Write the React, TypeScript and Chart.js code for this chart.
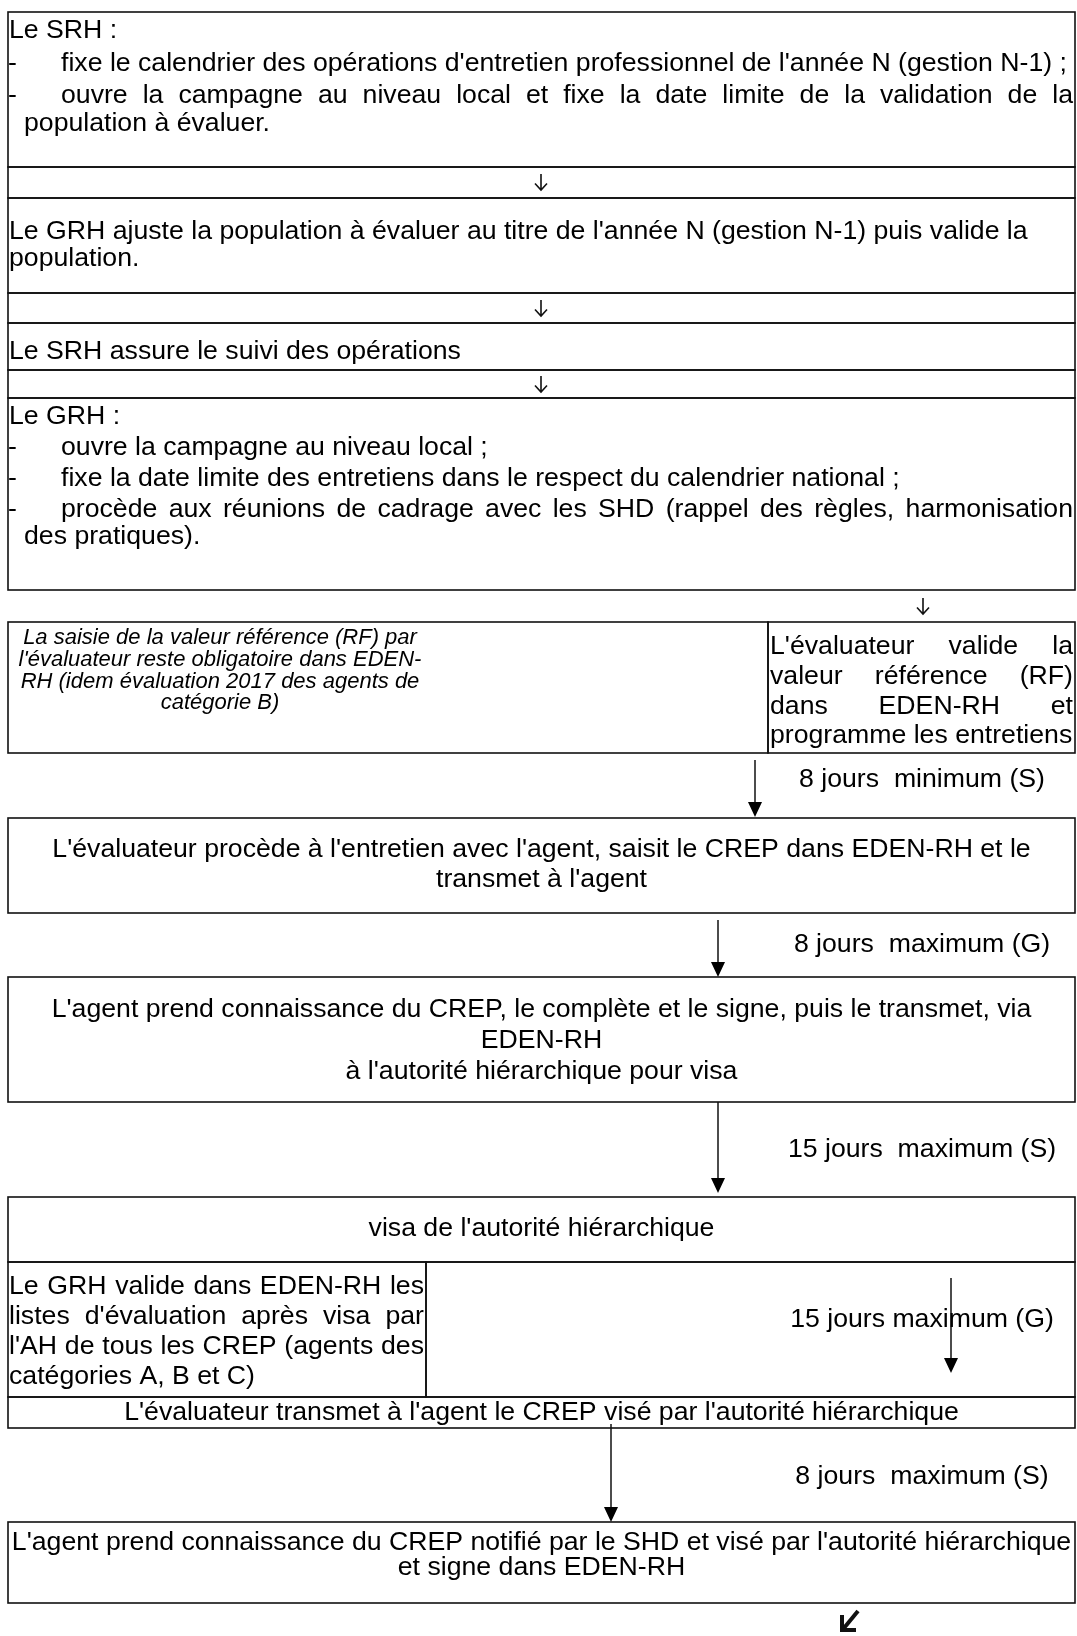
import React, { useEffect, useRef } from "react";
import { Chart, registerables } from "chart.js";

Chart.register(...registerables);

// ---------- text content ----------
const srhLines = [
  "Le SRH :",
  "fixe le calendrier des opérations d'entretien professionnel de l'année N (gestion N-1) ;",
  "ouvre la campagne au niveau local et fixe la date limite de la validation de la",
  "population à évaluer.",
];
const grhAdjustLines = [
  "Le GRH ajuste la population à évaluer au titre de l'année N (gestion N-1) puis valide la",
  "population.",
];
const srhFollowLines = ["Le SRH assure le suivi des opérations"];
const grhOpenLines = [
  "Le GRH :",
  "ouvre la campagne au niveau local ;",
  "fixe la date limite des entretiens dans le respect du calendrier national ;",
  "procède aux réunions de cadrage avec les SHD (rappel des règles, harmonisation",
  "des pratiques).",
];
const noteLines = [
  "La saisie de la valeur référence (RF) par",
  "l'évaluateur reste obligatoire dans EDEN-",
  "RH (idem évaluation 2017 des agents de",
  "catégorie B)",
];
const validateLines = [
  "L'évaluateur valide la",
  "valeur référence (RF)",
  "dans EDEN-RH et",
  "programme les entretiens",
];
const interviewLines = [
  "L'évaluateur procède à l'entretien avec l'agent, saisit le CREP dans EDEN-RH et le",
  "transmet à l'agent",
];
const agentLines = [
  "L'agent prend connaissance du CREP, le complète et le signe, puis le transmet, via",
  "EDEN-RH",
  "à l'autorité hiérarchique pour visa",
];
const visaLines = ["visa de l'autorité hiérarchique"];
const listLines = [
  "Le GRH valide dans EDEN-RH les",
  "listes d'évaluation après visa par",
  "l'AH de tous les CREP (agents des",
  "catégories A, B et C)",
];
const transmitLines = ["L'évaluateur transmet à l'agent le CREP visé par l'autorité hiérarchique"];
const signLines = [
  "L'agent prend connaissance du CREP notifié par le SHD et visé par l'autorité hiérarchique",
  "et signe dans EDEN-RH",
];
const delayLabels = [
  "8 jours  minimum (S)",
  "8 jours  maximum (G)",
  "15 jours  maximum (S)",
  "15 jours maximum (G)",
  "8 jours  maximum (S)",
];

// ---------- layout (page coordinates) ----------
const PAGE_W = 1077;
const PAGE_H = 1636;

const boxes = [
  [8, 12, 1075, 167],
  [8, 167, 1075, 198],
  [8, 198, 1075, 293],
  [8, 293, 1075, 323],
  [8, 323, 1075, 370],
  [8, 370, 1075, 398],
  [8, 398, 1075, 590],
  [8, 622, 768, 753],
  [768, 622, 1075, 753],
  [8, 818, 1075, 913],
  [8, 977, 1075, 1102],
  [8, 1197, 1075, 1262],
  [8, 1262, 426, 1397],
  [426, 1262, 1075, 1397],
  [8, 1397, 1075, 1428],
  [8, 1522, 1075, 1603],
];

// thin open arrows (centre x, centre y)
const thinArrows = [
  [541, 182],
  [541, 308],
  [541, 384],
  [923, 606],
];

// solid arrows: x, yStart, yTip
const solidArrows = [
  [755, 760, 817],
  [718, 920, 977],
  [718, 1102, 1193],
  [951, 1278, 1373],
  [611, 1424, 1522],
];
const delayLabelPos = [
  [922, 780],
  [922, 945],
  [922, 1150],
  [922, 1320],
  [922, 1477],
];
// bold diagonal arrow at the bottom: tip and tail
const bottomArrow = [[842, 1630], [858, 1611]];

type Block = {
  lines: string[];
  ys: number[];
  x0: number;
  x1: number;
  modes: string[]; // l = left, j = justify, c = center
  dash?: number[];
  indent?: number[];
  italic?: boolean;
  size?: number;
};

const blocks: Block[] = [
  { lines: srhLines, ys: [31, 64, 96, 124], x0: 9, x1: 1073, modes: ["l", "l", "j", "l"], dash: [1, 2], indent: [0, 52, 52, 15] },
  { lines: grhAdjustLines, ys: [232, 259], x0: 9, x1: 1073, modes: ["l", "l"] },
  { lines: srhFollowLines, ys: [352], x0: 9, x1: 1073, modes: ["l"] },
  { lines: grhOpenLines, ys: [417, 448, 479, 510, 537], x0: 9, x1: 1073, modes: ["l", "l", "l", "j", "l"], dash: [1, 2, 3], indent: [0, 52, 52, 52, 15] },
  { lines: noteLines, ys: [638, 660, 682, 703], x0: 14, x1: 426, modes: ["c", "c", "c", "c"], italic: true, size: 22 },
  { lines: validateLines, ys: [647, 677, 707, 736], x0: 770, x1: 1073, modes: ["j", "j", "j", "l"] },
  { lines: interviewLines, ys: [850, 880], x0: 8, x1: 1075, modes: ["c", "c"] },
  { lines: agentLines, ys: [1010, 1041, 1072], x0: 8, x1: 1075, modes: ["c", "c", "c"] },
  { lines: visaLines, ys: [1229], x0: 8, x1: 1075, modes: ["c"] },
  { lines: listLines, ys: [1287, 1317, 1347, 1377], x0: 9, x1: 424, modes: ["j", "j", "j", "l"] },
  { lines: transmitLines, ys: [1413], x0: 8, x1: 1075, modes: ["c"] },
  { lines: signLines, ys: [1543, 1568], x0: 8, x1: 1075, modes: ["c", "c"] },
];

const FONT = '"Liberation Sans", Arial, sans-serif';
const MAIN_SIZE = 26.67;

const flowPlugin = {
  id: "flowchart",
  afterDraw(chart: any) {
    const ctx: CanvasRenderingContext2D = chart.ctx;
    const xs = chart.scales.x;
    const ys = chart.scales.y;
    const X = (v: number) => xs.getPixelForValue(v);
    const Y = (v: number) => ys.getPixelForValue(v);
    ctx.save();

    // boxes
    ctx.strokeStyle = "#111";
    ctx.fillStyle = "#000";
    ctx.lineWidth = 1.6;
    boxes.forEach((b) => {
      ctx.strokeRect(X(b[0]), Y(b[1]), X(b[2]) - X(b[0]), Y(b[3]) - Y(b[1]));
    });

    // text blocks
    ctx.textBaseline = "middle";
    blocks.forEach((bl) => {
      const size = bl.size || MAIN_SIZE;
      ctx.font = `${bl.italic ? "italic " : ""}${size}px ${FONT}`;
      bl.lines.forEach((t, i) => {
        const y = Y(bl.ys[i]);
        const mode = bl.modes[i];
        const start = X(bl.x0 + (bl.indent ? bl.indent[i] : 0));
        const end = X(bl.x1);
        if (bl.dash && bl.dash.includes(i)) {
          ctx.textAlign = "left";
          ctx.fillText("-", X(bl.x0 - 1), y);
        }
        if (mode === "c") {
          ctx.textAlign = "center";
          ctx.fillText(t, (X(bl.x0) + end) / 2, y);
        } else if (mode === "j") {
          ctx.textAlign = "left";
          const words = t.split(" ");
          const widths = words.map((w) => ctx.measureText(w).width);
          const total = widths.reduce((a, b) => a + b, 0);
          const gap = words.length > 1 ? (end - start - total) / (words.length - 1) : 0;
          let cx = start;
          words.forEach((w, k) => {
            ctx.fillText(w, cx, y);
            cx += widths[k] + gap;
          });
        } else {
          ctx.textAlign = "left";
          ctx.fillText(t, start, y);
        }
      });
    });

    // thin open arrows
    ctx.lineWidth = 1.6;
    thinArrows.forEach((a) => {
      const x = X(a[0]);
      const y = Y(a[1]);
      ctx.beginPath();
      ctx.moveTo(x, y - 8);
      ctx.lineTo(x, y + 8);
      ctx.moveTo(x - 6, y + 1.5);
      ctx.lineTo(x, y + 8);
      ctx.lineTo(x + 6, y + 1.5);
      ctx.stroke();
    });

    // solid arrows
    ctx.lineWidth = 1.5;
    solidArrows.forEach((a) => {
      const x = X(a[0]);
      const tip = Y(a[2]);
      ctx.beginPath();
      ctx.moveTo(x, Y(a[1]));
      ctx.lineTo(x, tip - 12);
      ctx.stroke();
      ctx.beginPath();
      ctx.moveTo(x - 7, tip - 15);
      ctx.lineTo(x + 7, tip - 15);
      ctx.lineTo(x, tip);
      ctx.closePath();
      ctx.fill();
    });

    // delay labels
    ctx.font = `${MAIN_SIZE}px ${FONT}`;
    ctx.textAlign = "center";
    delayLabels.forEach((t, i) => {
      ctx.fillText(t, X(delayLabelPos[i][0]), Y(delayLabelPos[i][1]));
    });

    // bold down-left arrow at bottom
    ctx.lineWidth = 4;
    ctx.lineCap = "butt";
    ctx.lineJoin = "miter";
    const tx = X(bottomArrow[0][0]), ty = Y(bottomArrow[0][1]);
    ctx.beginPath();
    ctx.moveTo(X(bottomArrow[1][0]), Y(bottomArrow[1][1]));
    ctx.lineTo(tx + 2, ty - 2);
    ctx.stroke();
    ctx.beginPath();
    ctx.moveTo(tx, ty - 15);
    ctx.lineTo(tx, ty);
    ctx.lineTo(tx + 14, ty);
    ctx.stroke();

    ctx.restore();
  },
};

export default function App() {
  const ref = useRef<HTMLCanvasElement | null>(null);
  useEffect(() => {
    if (!ref.current) return;
    const chart = new Chart(ref.current, {
      type: "scatter",
      data: { datasets: [{ data: [], pointRadius: 0 }] },
      options: {
        animation: false,
        responsive: true,
        maintainAspectRatio: false,
        events: [],
        layout: { padding: 0 },
        plugins: { legend: { display: false }, tooltip: { enabled: false } },
        scales: {
          x: { type: "linear", min: 0, max: PAGE_W, display: false },
          y: { type: "linear", min: 0, max: PAGE_H, reverse: true, display: false },
        },
      },
      plugins: [flowPlugin],
    });
    return () => chart.destroy();
  }, []);
  return (
    <div style={{ position: "absolute", left: 0, top: 0, width: PAGE_W, height: PAGE_H, background: "#fff" }}>
      <canvas ref={ref} />
    </div>
  );
}
